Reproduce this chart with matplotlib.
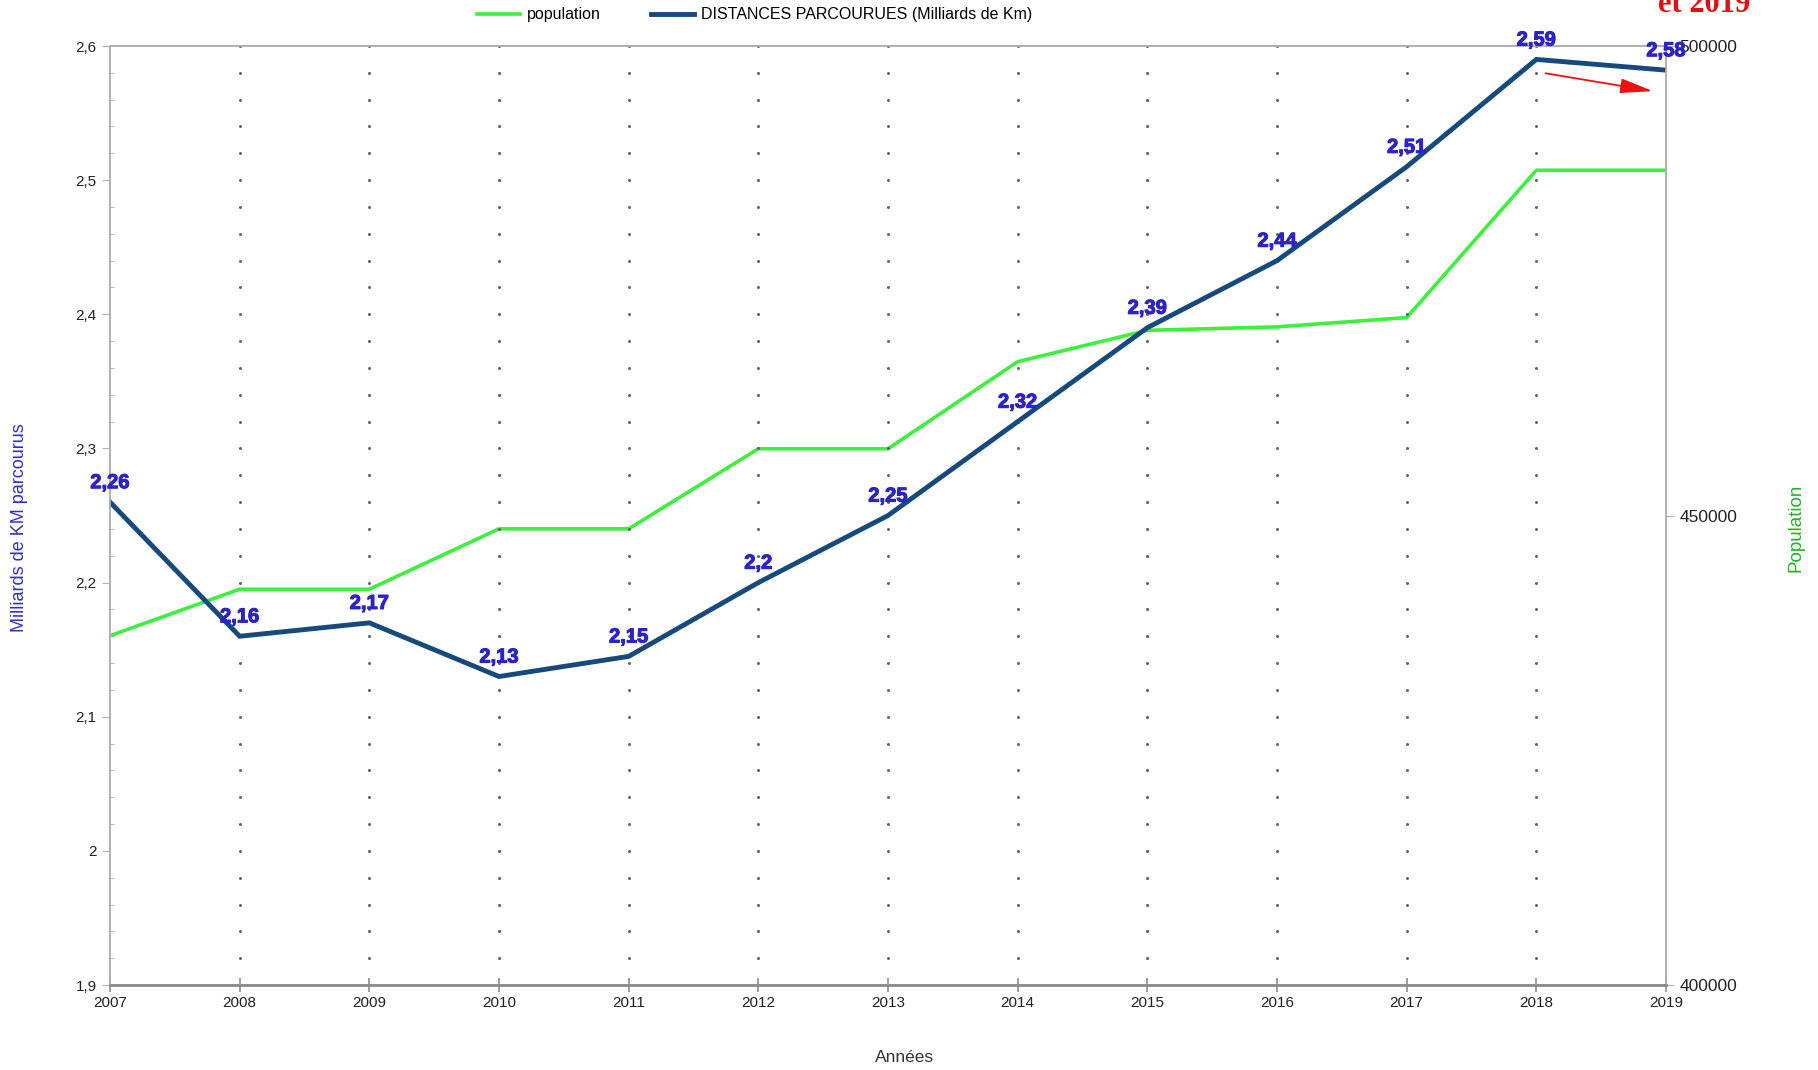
import numpy as np
import matplotlib.pyplot as plt
import matplotlib.patheffects as pe
from matplotlib.ticker import FixedLocator, FuncFormatter

plt.rcParams['font.family'] = ['Liberation Sans', 'DejaVu Sans']

# Data
years = list(range(2007, 2020))
distances = [2.26, 2.16, 2.17, 2.13, 2.145, 2.20, 2.25, 2.32, 2.39, 2.44, 2.51, 2.59, 2.582]
dist_labels = ['2,26', '2,16', '2,17', '2,13', '2,15', '2,2', '2,25', '2,32', '2,39', '2,44', '2,51', '2,59', '2,58']
population = [437200, 442150, 442150, 448580, 448580, 457110, 457110, 466380, 469720, 470090, 471080, 486770, 486770]

blue = '#16497c'
green = '#3df03d'
label_blue = '#2b22c8'
grey = '#b0b0b0'

fig = plt.figure(figsize=(18.18, 10.70), dpi=100)
ax = fig.add_axes([0.0605, 0.0794, 0.8559, 0.8776])
ax2 = ax.twinx()

ax.set_zorder(ax2.get_zorder() + 1)
ax.patch.set_visible(False)

ax2.plot(years, population, color=green, lw=2.6, solid_capstyle='butt')
ax.plot(years, distances, color=blue, lw=3.5, solid_joinstyle='miter')

ax.set_xlim(2007, 2019)
ax.set_ylim(1.9, 2.6)
ax2.set_ylim(400000, 500000)

ax.set_xticks(years)
ax.set_yticks(np.round(np.arange(1.9, 2.61, 0.1), 2))
ax.yaxis.set_minor_locator(FixedLocator(np.round(np.arange(1.9, 2.601, 0.02), 2)))
ax.yaxis.set_major_formatter(FuncFormatter(lambda v, p: '{:g}'.format(round(v, 2)).replace('.', ',')))
ax2.set_yticks([400000, 450000, 500000])

# dotted vertical grid (one dot per minor step)
minor_y = np.round(np.arange(1.92, 2.601, 0.02), 2)
for yr in years[1:-1]:
    ax.plot([yr] * len(minor_y), minor_y, ls='none', marker='o', ms=1.2,
            color='#666666', zorder=0.5)

for a in (ax, ax2):
    for s in a.spines.values():
        s.set_color(grey)
        s.set_linewidth(1.2)
ax.spines['bottom'].set_color('#8c8c8c')
ax.spines['bottom'].set_linewidth(2)

ax.tick_params(axis='x', direction='inout', length=10, width=1.2, color='#8c8c8c',
               labelsize=11, labelcolor='#222222', pad=3)
ax.tick_params(axis='y', which='major', direction='out', length=6, color=grey,
               labelsize=11, labelcolor='#222222')
ax.tick_params(axis='y', which='minor', direction='in', length=3, color=grey)
ax2.tick_params(axis='y', direction='out', length=6, color=grey,
                labelsize=12.5, labelcolor='#222222')

for x, y, t in zip(years, distances, dist_labels):
    ax.annotate(t, (x, y), xytext=(0, 14), textcoords='offset points',
                ha='center', va='center', fontsize=14.5, fontweight='bold',
                color=label_blue, zorder=5,
                path_effects=[pe.withStroke(linewidth=0.8, foreground=label_blue)])

ax.annotate('', xy=(2018.92, 2.566), xytext=(2018.05, 2.58),
            arrowprops=dict(arrowstyle='-|>,head_length=2.0,head_width=0.45',
                            color='#ee1111', lw=1.3))

fig.text(0.011, 0.507, 'Milliards de KM parcourus', rotation=90, ha='center', va='center',
         fontsize=13, color='#3030c0')
fig.text(0.988, 0.507, 'Population', rotation=90, ha='center', va='center',
         fontsize=13.5, color='#22b022')
fig.text(0.4975, 0.012, 'Années', ha='center', va='center', fontsize=12.5, color='#333333')

fig.text(0.912, 1 - 12 / 1070, 'et 2019', ha='left', va='baseline', fontsize=22,
         fontweight='bold', color='#e01010', family=['Liberation Serif', 'DejaVu Serif'])

handles = [plt.Line2D([], [], color=green, lw=2.6), plt.Line2D([], [], color=blue, lw=3.5)]
fig.legend(handles, ['population', 'DISTANCES PARCOURUES (Milliards de Km)'],
           loc='center', bbox_to_anchor=(0.415, 1 - 15 / 1070), ncol=2, frameon=False,
           handlelength=2.7, columnspacing=3.1, handletextpad=0.45,
           prop={'size': 11.5})

fig.savefig('out.png', dpi=100, facecolor='white')
